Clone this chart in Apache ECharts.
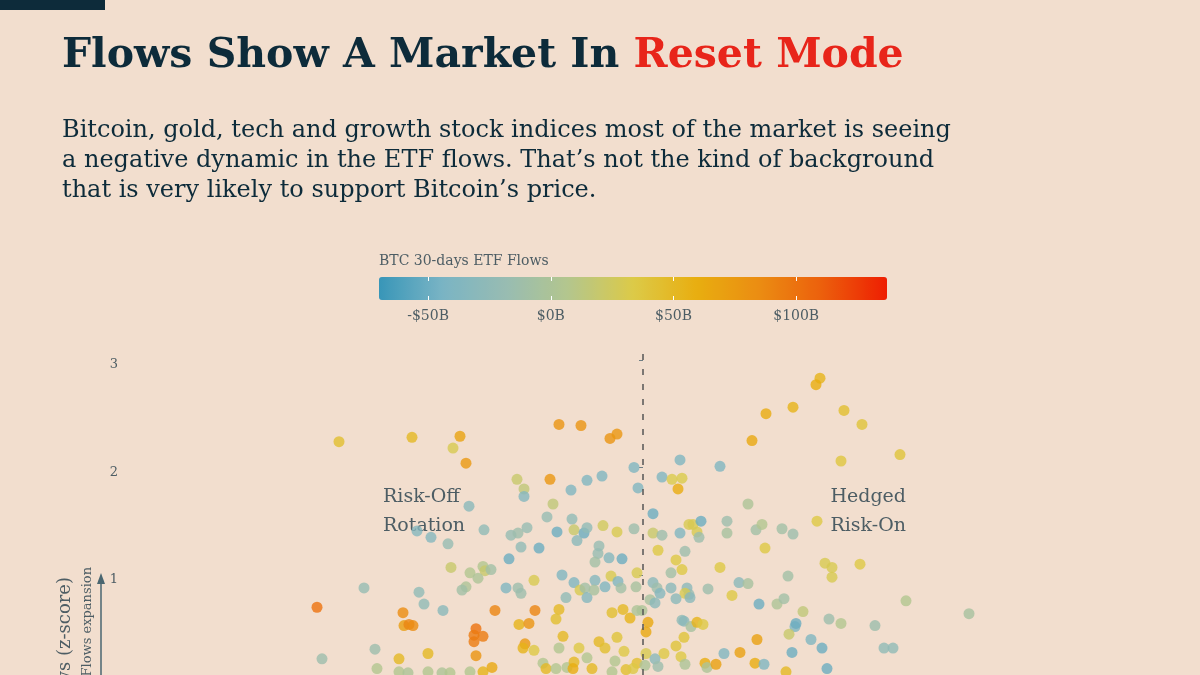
<!DOCTYPE html>
<html><head><meta charset="utf-8">
<script src="https://cdn.jsdelivr.net/npm/echarts@6/dist/echarts.min.js"></script>
<style>html,body{margin:0;padding:0;background:#f2dece;}#c{width:1200px;height:675px;}</style>
</head><body><div id="c"></div>
<script>
// Horizontal position (z-score, dashed line at 0)
const xVals = [
-3.04,-2.31,-1.83,-1.90,-1.77,-1.26,-1.19,-1.19,-1.74,-0.84,
-0.62,-0.33,-0.26,-0.09,0.37,0.77,1.09,-0.93,-0.72,-0.56,
-0.41,-0.05,0.19,0.29,0.39,0.35,-0.90,1.05,0.10,1.77,
1.73,1.50,1.23,2.01,2.19,1.98,2.57,
-3.26,-2.79,-3.21,-2.26,-2.12,-1.95,-1.92,-1.73,-1.77,-1.81,
-2.24,-2.19,-2.00,-2.40,-2.39,-2.34,-2.30,-2.68,-2.15,-2.44,
-2.66,-2.44,-2.35,-2.15,-2.01,-1.93,-1.73,
-1.59,-1.32,-1.25,-1.16,-0.96,-0.71,-0.86,-0.69,-0.59,-0.56,
-0.66,-0.40,-0.26,-0.09,-1.22,-1.04,-1.34,-0.44,-0.45,-0.48,
-0.34,-0.21,-1.60,-1.58,-1.52,-1.65,-1.09,-0.81,-0.69,-0.48,
-0.32,-0.25,-0.06,-1.37,-1.25,-1.22,-0.77,-0.63,-0.58,-0.56,
-0.49,-0.38,-0.22,-0.07,-1.48,-1.08,-0.84,-0.87,-1.24,-1.14,
-0.31,-0.20,-0.13,-0.06,-1.67,-1.69,-1.60,-1.69,-1.67,-0.80,
-1.18,-1.20,-1.09,-0.84,-0.64,-0.44,-0.38,-0.26,-0.19,-0.56,
-0.28,-0.06,-1.51,-1.60,-1.00,-0.97,-0.87,-0.76,-0.69,-0.70,
-0.51,-0.31,-0.17,-0.10,0.10,0.19,0.37,0.46,0.50,0.58,
0.54,0.56,0.84,0.84,1.13,1.19,1.39,1.50,1.74,0.15,
0.42,1.22,0.33,0.39,0.28,0.77,1.45,0.10,0.14,0.17,
0.28,0.44,0.46,0.42,0.47,0.33,0.65,0.96,1.05,0.89,
0.07,0.12,1.16,1.34,1.41,1.60,-0.01,0.05,0.03,0.39,
0.41,0.48,0.54,0.60,0.41,0.33,1.14,0.97,0.81,0.38,
0.21,0.03,0.12,0.15,0.02,0.42,0.62,0.64,0.73,1.12,
1.21,1.43,1.49,1.52,1.53,1.46,1.68,1.82,1.89,1.89,
2.17,2.63,3.26,1.86,1.98,2.32,1.79,2.41,2.50,1.84
];
// Flows (z-score)
const yVals = [
2.24,2.28,2.29,2.18,2.04,1.89,1.80,1.73,1.64,2.40,
2.39,2.27,2.31,2.00,2.07,2.01,2.25,1.89,1.79,1.88,
1.92,1.81,1.91,1.89,1.90,1.80,1.66,1.66,1.57,2.83,
2.77,2.56,2.50,2.53,2.40,2.06,2.12,
0.70,0.88,0.22,1.41,1.35,1.29,1.07,1.02,0.89,0.86,
0.84,0.73,0.67,0.65,0.53,0.54,0.53,0.31,0.27,0.22,
0.13,0.10,0.09,0.10,0.09,0.09,0.10,
1.42,1.37,1.39,1.44,1.54,1.52,1.40,1.42,1.39,1.44,
1.32,1.46,1.40,1.43,1.26,1.25,1.15,1.27,1.20,1.12,
1.16,1.15,1.08,1.04,1.05,0.97,0.95,1.00,0.93,0.95,
0.99,0.94,1.02,0.88,0.88,0.83,0.79,0.86,0.88,0.79,
0.86,0.89,0.88,0.89,0.67,0.67,0.68,0.59,0.54,0.55,
0.65,0.68,0.60,0.67,0.50,0.44,0.43,0.38,0.25,0.43,
0.36,0.32,0.30,0.32,0.32,0.38,0.32,0.42,0.29,0.23,
0.20,0.18,0.14,0.10,0.18,0.13,0.13,0.14,0.19,0.13,
0.13,0.10,0.12,0.13,1.39,1.37,1.39,1.47,1.47,1.50,
1.40,1.35,1.50,1.39,1.42,1.47,1.43,1.38,1.50,1.23,
1.22,1.25,1.14,1.05,1.02,1.07,0.99,0.93,0.88,0.83,
0.88,0.88,0.82,0.83,0.79,0.78,0.87,0.93,0.92,0.81,
0.77,0.74,0.73,0.73,0.78,0.66,0.67,0.56,0.47,0.58,
0.57,0.52,0.56,0.54,0.42,0.34,0.40,0.28,0.27,0.24,
0.27,0.27,0.22,0.15,0.16,0.17,0.18,0.14,0.17,0.18,
0.17,0.10,0.28,0.52,0.55,0.45,0.40,1.11,1.07,0.98,
1.10,0.76,0.64,0.59,0.55,0.53,0.32,0.32,0.32,0.13
];
// BTC 30-days ETF flows, $B (colour)
const flowVals = [
45,50,68,30,75,20,15,-35,-30,80,
80,80,78,-40,-40,-40,65,78,-40,-40,
-40,-40,-40,32,32,62,15,0,-50,55,
60,55,62,45,40,38,40,
100,-20,-15,-35,-35,-20,20,5,0,-10,
-25,-25,-30,85,72,90,85,-15,50,50,
5,5,0,5,0,5,5,
-25,-20,-15,-20,-20,-25,-50,20,-50,-25,
-30,25,30,-15,-25,-50,-50,-20,-20,-10,
-35,-50,5,20,-10,0,30,-40,-40,-35,
30,-40,30,-40,-15,-15,-25,30,-10,-35,
-5,-40,-10,-5,90,90,50,45,55,80,
45,50,55,0,100,95,95,95,80,50,
75,55,35,5,35,50,45,40,35,5,
5,45,65,55,5,50,5,5,50,60,
50,5,45,35,20,-15,-40,30,30,-50,
30,-15,-15,-5,-10,5,-10,-15,35,35,
-15,35,35,35,-10,35,-10,-30,-15,-35,
-30,-30,-20,30,-30,-30,-15,-30,-5,35,
-5,-30,-50,0,-10,15,0,65,65,-25,
-30,-5,55,35,40,40,70,70,-40,35,
35,30,-30,-15,0,0,60,0,70,60,
-40,50,-50,-40,-50,20,-40,30,30,30,
35,5,-5,-15,5,-15,-50,-25,-25,-50
];
const yTicks = [1, 2, 3];
const cbarTicks = [-50, 0, 50, 100];
const cbarLabels = ['-$50B', '$0B', '$50B', '$100B'];
const flowMin = -70, flowMax = 137;

const serif = '"DejaVu Serif", serif';
const navy = '#0d2b3a';
const grey = '#4d5d64';

const points = xVals.map((x, i) => [x, yVals[i], flowVals[i]]);

const chart = echarts.init(document.getElementById('c'), null, {renderer: 'canvas'});
chart.setOption({
  backgroundColor: '#f2dece',
  animation: false,
  grid: [
    {left: 126, top: 347, width: 1034, bottom: 0},
    {left: 379, top: 277, width: 508, height: 23}
  ],
  xAxis: [
    {gridIndex: 0, type: 'value', min: -5.17, max: 5.17, show: false},
    {gridIndex: 1, type: 'value', min: flowMin, max: flowMax, position: 'bottom', z: 10,
     axisLine: {show: false}, splitLine: {show: false},
     axisTick: {show: true, inside: true, length: 4, lineStyle: {color: '#ffffff', width: 1}, customValues: cbarTicks},
     axisLabel: {customValues: cbarTicks, margin: 9, color: grey, fontSize: 14, fontFamily: serif,
       formatter: v => cbarLabels[cbarTicks.indexOf(v)]}},
    {gridIndex: 1, type: 'value', min: flowMin, max: flowMax, position: 'top', z: 10,
     axisLine: {show: false}, splitLine: {show: false}, axisLabel: {show: false},
     axisTick: {show: true, inside: true, length: 4, lineStyle: {color: '#ffffff', width: 1}, customValues: cbarTicks}}
  ],
  yAxis: [
    {gridIndex: 0, type: 'value', min: 0.07, max: 3.12,
     axisLine: {show: false}, splitLine: {show: false},
     axisTick: {show: true, length: 4, lineStyle: {color: '#6f7e84', width: 1}, customValues: yTicks},
     axisLabel: {customValues: yTicks, margin: 8, formatter: v => '{a|' + v + '}',
       rich: {a: {color: grey, fontSize: 13, fontFamily: serif, padding: [10, 0, 0, 0]}}}},
    {gridIndex: 1, type: 'value', min: 0, max: 1, show: false}
  ],
  visualMap: {
    type: 'continuous', min: flowMin, max: flowMax, dimension: 2, seriesIndex: 0,
    orient: 'horizontal', left: 374, top: 272, itemWidth: 23, itemHeight: 508,
    calculable: false, hoverLink: false, padding: 5,
    inRange: {color: ['#3896b8', '#7ab4c4', '#98bcb2', '#b4c68c', '#dcca48', '#e8ae10', '#eb8c12', '#ec5e0c', '#ee1e02']}
  },
  series: [{
    type: 'scatter', xAxisIndex: 0, yAxisIndex: 0,
    data: points, symbolSize: 11,
    itemStyle: {opacity: 0.8},
    markLine: {silent: true, symbol: 'none', label: {show: false},
      lineStyle: {color: '#555555', type: [6, 9], width: 1.5},
      data: [{xAxis: 0}]}
  }],
  graphic: [
    {type: 'rect', shape: {x: 0, y: 0, width: 105, height: 10}, style: {fill: navy}},
    {type: 'text', x: 62, y: 56, style: {
      text: '{a|Flows Show A Market In }{b|Reset Mode}', verticalAlign: 'middle',
      rich: {
        a: {fontFamily: serif, fontWeight: 'bold', fontSize: 41, fill: navy},
        b: {fontFamily: serif, fontWeight: 'bold', fontSize: 41, fill: '#e8251a'}
      }}},
    {type: 'text', x: 62, y: 131, style: {text: 'Bitcoin, gold, tech and growth stock indices most of the market is seeing', font: '24px ' + serif, fill: navy, verticalAlign: 'middle'}},
    {type: 'text', x: 62, y: 161, style: {text: 'a negative dynamic in the ETF flows. That\u2019s not the kind of background', font: '24px ' + serif, fill: navy, verticalAlign: 'middle'}},
    {type: 'text', x: 62, y: 191, style: {text: 'that is very likely to support Bitcoin\u2019s price.', font: '24px ' + serif, fill: navy, verticalAlign: 'middle'}},
    {type: 'text', x: 379, y: 261, style: {text: 'BTC 30-days ETF Flows', font: '14px ' + serif, fill: grey, verticalAlign: 'middle'}},
    {type: 'text', x: 383, y: 497, style: {text: 'Risk-Off', font: '19px ' + serif, fill: grey, verticalAlign: 'middle'}},
    {type: 'text', x: 383, y: 526, style: {text: 'Rotation', font: '19px ' + serif, fill: grey, verticalAlign: 'middle'}},
    {type: 'text', x: 906, y: 497, style: {text: 'Hedged', font: '19px ' + serif, fill: grey, align: 'right', verticalAlign: 'middle'}},
    {type: 'text', x: 906, y: 526, style: {text: 'Risk-On', font: '19px ' + serif, fill: grey, align: 'right', verticalAlign: 'middle'}},
    {type: 'text', x: 65, y: 577, rotation: Math.PI / 2, style: {text: 'ETF Flows (z-score)', font: '18px ' + serif, fill: grey, align: 'right', verticalAlign: 'middle'}},
    {type: 'text', x: 88, y: 567, rotation: Math.PI / 2, style: {text: 'Flows expansion', font: '13px ' + serif, fill: grey, align: 'right', verticalAlign: 'middle'}},
    {type: 'line', shape: {x1: 101, y1: 700, x2: 101, y2: 582}, style: {stroke: '#4a6670', lineWidth: 1.5}},
    {type: 'polygon', shape: {points: [[101, 573], [97, 584], [105, 584]]}, style: {fill: '#4a6670'}}
  ]
});
</script>
</body></html>
